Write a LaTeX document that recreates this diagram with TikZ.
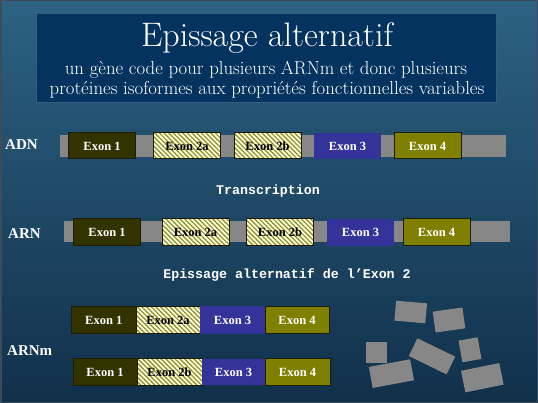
\documentclass[tikz,border=0pt]{standalone}
\usepackage{fontspec}
\newfontfamily\timesb{Liberation Serif}
\newfontfamily\monof{Liberation Mono}
\usetikzlibrary{patterns.meta}
\definecolor{bgtop}{HTML}{2C6283}
\definecolor{bgbot}{HTML}{11304A}
\definecolor{cnavy}{HTML}{05335F}
\definecolor{cexone}{HTML}{333300}
\definecolor{cexthree}{HTML}{333399}
\definecolor{cexfour}{HTML}{808000}
\definecolor{cstripe}{HTML}{8A8A2E}
\definecolor{ccream}{HTML}{FFFFD8}
\definecolor{cbar}{HTML}{878787}
\definecolor{cedge}{HTML}{1C1C08}
\definecolor{cframe}{HTML}{3E4C56}
\begin{document}
\begin{tikzpicture}[x=1pt,y=-1pt,
  exbase/.style={rectangle, inner sep=0pt, outer sep=0pt, minimum width=67pt, minimum height=26pt,
    font=\timesb\fontsize{12.5}{13}\selectfont\bfseries, line width=1pt},
  exA/.style={exbase, fill=cexone, draw=cedge, text=white},
  exB/.style={exbase, preaction={fill=ccream},
    pattern={Lines[angle=-45,distance=3.3pt,line width=1.2pt]}, pattern color=cstripe,
    draw=cedge, text=black},
  exC/.style={exbase, fill=cexthree, text=white},
  exD/.style={exbase, fill=cexfour, draw=cedge, text=white},
  gbar/.style={rectangle, inner sep=0pt, outer sep=0pt, fill=cbar, minimum width=446pt, minimum height=22pt},
  seqlbl/.style={font=\timesb\fontsize{15}{16}\selectfont\bfseries, text=white, anchor=west, inner sep=0pt},
  monolbl/.style={font=\monof\fontsize{13.3}{14}\selectfont\bfseries, text=white, inner sep=0pt},
  titlelbl/.style={anchor=base, text=white, inner sep=0pt},
  blk/.style={rectangle, fill=cbar, inner sep=0pt, outer sep=0pt}
]
\useasboundingbox (0,0) rectangle (538,403);
\shade[top color=bgtop, bottom color=bgbot] (0,0) rectangle (538,403);
\draw[cframe, line width=1.5pt] (0.75,0.75) rectangle (537.25,402.25);

% title box
\node (titlebox) [rectangle, fill=cnavy, draw=cnavy!80!white, line width=0.5pt,
  minimum width=460pt, minimum height=89pt, inner sep=0pt] at (266,57.5) {};
\node (title) [titlelbl, font=\fontsize{34}{36}\selectfont] at (267,46.4) {Epissage alternatif};
\node (sub1) [titlelbl, font=\fontsize{18.8}{20}\selectfont] at (266,75) {un gène code pour plusieurs ARNm et donc plusieurs};
\node (sub2) [titlelbl, font=\fontsize{18.8}{20}\selectfont] at (267,94.5) {protéines isoformes aux propriétés fonctionnelles variables};

% ADN
\node (adn) [seqlbl] at (5,145) {ADN};
\node (adnbar) [gbar] at (283,146) {};
\node (d1) [exA] at (102,146) {Exon 1};
\node (d2a) [exB] at (187,146) {Exon 2a};
\node (d2b) [exB] at (267.5,146) {Exon 2b};
\node (d3) [exC] at (347.5,146) {Exon 3};
\node (d4) [exD] at (427.5,146) {Exon 4};

\node (transc) [monolbl] at (268,191) {Transcription};

% ARN
\node (arn) [seqlbl] at (8,234) {ARN};
\node (arnbar) [gbar, minimum height=21pt] at (287,231.5) {};
\node (r1) [exA, minimum height=27pt] at (107,232.5) {Exon 1};
\node (r2a) [exB, minimum height=27pt] at (195.5,232.5) {Exon 2a};
\node (r2b) [exB, minimum height=27pt] at (280,232.5) {Exon 2b};
\node (r3) [exC, minimum height=27pt] at (360.5,232.5) {Exon 3};
\node (r4) [exD, minimum height=27pt] at (436.5,232.5) {Exon 4};

\node (episs) [monolbl] at (287,275) {Epissage alternatif de l’Exon 2};

% ARNm
\node (arnm) [seqlbl] at (7,351) {ARNm};
\node (m1) [exA, minimum width=64.5pt, minimum height=27.5pt] at (103.75,320) {Exon 1};
\node (m2a) [exB, minimum width=64pt, minimum height=27.5pt] at (168,320) {Exon 2a};
\node (m3) [exC, minimum width=65pt, minimum height=27.5pt] at (232.5,320) {Exon 3};
\node (m4) [exD, minimum width=64pt, minimum height=27.5pt] at (297,320) {Exon 4};

\node (n1) [exA, minimum width=64pt, minimum height=26.5pt] at (105,372) {Exon 1};
\node (n2b) [exB, minimum width=65pt, minimum height=26.5pt] at (169.5,372) {Exon 2b};
\node (n3) [exC, minimum width=63pt, minimum height=26.5pt] at (233.5,372) {Exon 3};
\node (n4) [exD, minimum width=65pt, minimum height=26.5pt] at (297.5,372) {Exon 4};

% protein fragments
\node (g1) [blk, minimum width=31pt, minimum height=20pt, rotate=-5] at (410.7,312) {};
\node (g2) [blk, minimum width=30pt, minimum height=21pt, rotate=8] at (449,320) {};
\node (g3) [blk, minimum width=21.6pt, minimum height=21pt] at (376.5,352.2) {};
\node (g4) [blk, minimum width=42pt, minimum height=19.7pt, rotate=-26] at (432,356.3) {};
\node (g5) [blk, minimum width=42pt, minimum height=21.4pt, rotate=10.5] at (391.4,373.6) {};
\node (g6) [blk, minimum width=19.4pt, minimum height=22pt, rotate=10] at (470,349.8) {};
\node (g7) [blk, minimum width=39pt, minimum height=22pt, rotate=11.5] at (482.3,377.7) {};
\end{tikzpicture}
\end{document}
